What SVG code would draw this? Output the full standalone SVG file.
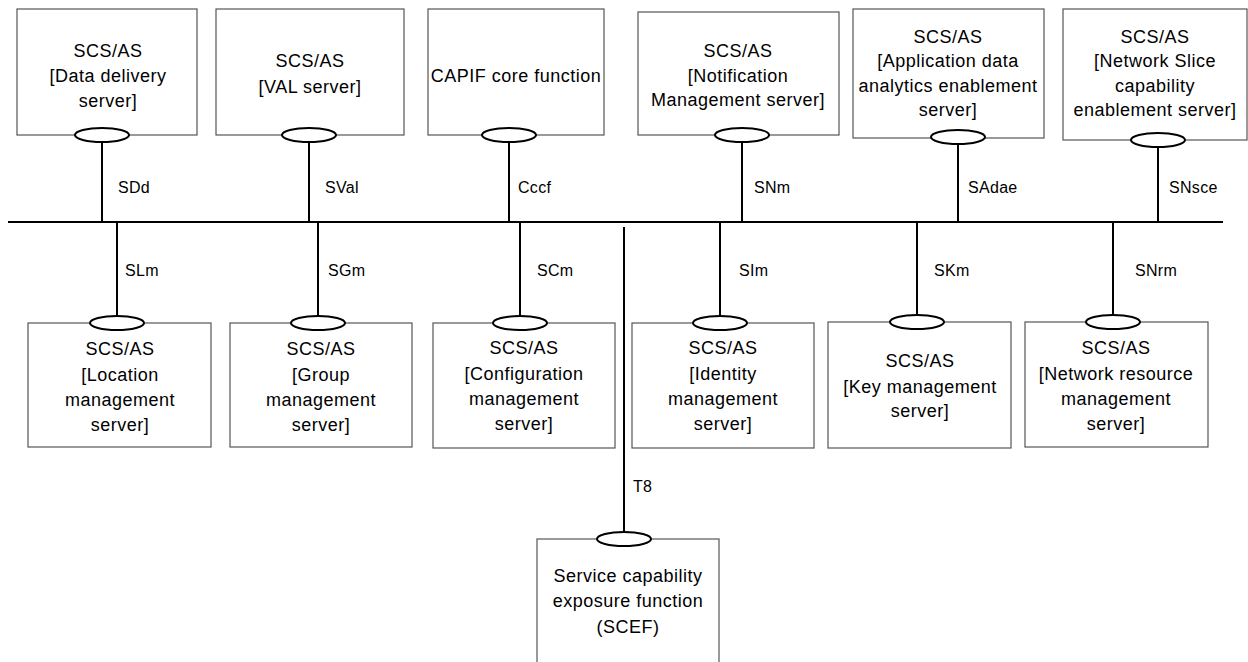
<svg xmlns="http://www.w3.org/2000/svg" width="1248" height="662" viewBox="0 0 1248 662">
<style>
.box{fill:#fff;stroke:#555;stroke-width:1.2}
.el{fill:#fff;stroke:#000;stroke-width:2}
.ln{stroke:#000;stroke-width:2;fill:none}
.t{font-family:"Liberation Sans",Arial,sans-serif;font-size:18px;letter-spacing:0.5px;fill:#000;text-anchor:middle}
.lb{font-family:"Liberation Sans",Arial,sans-serif;font-size:16px;letter-spacing:0.3px;fill:#000}
</style>
<rect width="1248" height="662" fill="#fff"/>
<g id="connectors">
<line class="ln" x1="8" y1="222" x2="1223" y2="222"/>
<line class="ln" x1="102" y1="142" x2="102" y2="222"/>
<line class="ln" x1="309" y1="142" x2="309" y2="222"/>
<line class="ln" x1="509" y1="142" x2="509" y2="222"/>
<line class="ln" x1="742" y1="142" x2="742" y2="222"/>
<line class="ln" x1="958" y1="144" x2="958" y2="222"/>
<line class="ln" x1="1158" y1="147" x2="1158" y2="222"/>
<line class="ln" x1="117" y1="222" x2="117" y2="316"/>
<line class="ln" x1="318" y1="222" x2="318" y2="316"/>
<line class="ln" x1="520" y1="222" x2="520" y2="316"/>
<line class="ln" x1="720" y1="222" x2="720" y2="316"/>
<line class="ln" x1="917" y1="222" x2="917" y2="315"/>
<line class="ln" x1="1113" y1="222" x2="1113" y2="315"/>
<line class="ln" x1="624" y1="227" x2="624" y2="532"/>
<text class="lb" x="118" y="193">SDd</text>
<text class="lb" x="325" y="193">SVal</text>
<text class="lb" x="518" y="193">Cccf</text>
<text class="lb" x="754" y="193">SNm</text>
<text class="lb" x="968" y="193">SAdae</text>
<text class="lb" x="1169" y="193">SNsce</text>
<text class="lb" x="125" y="276">SLm</text>
<text class="lb" x="328" y="276">SGm</text>
<text class="lb" x="537" y="276">SCm</text>
<text class="lb" x="739" y="276">SIm</text>
<text class="lb" x="934" y="276">SKm</text>
<text class="lb" x="1135" y="276">SNrm</text>
<text class="lb" x="633" y="492">T8</text>
</g>
<g id="dds">
<rect class="box" x="17" y="9" width="180" height="126"/>
<text class="t" x="108" y="57">SCS/AS</text>
<text class="t" x="108" y="82">[Data delivery</text>
<text class="t" x="108" y="107">server]</text>
<ellipse class="el" cx="102" cy="135" rx="27" ry="7"/>
</g>
<g id="val">
<rect class="box" x="216" y="9" width="188" height="126"/>
<text class="t" x="310" y="67">SCS/AS</text>
<text class="t" x="310" y="93">[VAL server]</text>
<ellipse class="el" cx="309" cy="135" rx="27" ry="7"/>
</g>
<g id="capif">
<rect class="box" x="428" y="9" width="176" height="126"/>
<text class="t" x="516" y="82">CAPIF core function</text>
<ellipse class="el" cx="509" cy="135" rx="27" ry="7"/>
</g>
<g id="nm">
<rect class="box" x="638" y="12" width="201" height="123"/>
<text class="t" x="738" y="57">SCS/AS</text>
<text class="t" x="738" y="82">[Notification</text>
<text class="t" x="738" y="106">Management server]</text>
<ellipse class="el" cx="742" cy="135" rx="27" ry="7"/>
</g>
<g id="adae">
<rect class="box" x="853" y="9" width="191" height="129"/>
<text class="t" x="948" y="43">SCS/AS</text>
<text class="t" x="948" y="67">[Application data</text>
<text class="t" x="948" y="92">analytics enablement</text>
<text class="t" x="948" y="116">server]</text>
<ellipse class="el" cx="958" cy="137" rx="27" ry="7"/>
</g>
<g id="nsce">
<rect class="box" x="1063" y="9" width="184" height="131"/>
<text class="t" x="1155" y="43">SCS/AS</text>
<text class="t" x="1155" y="67">[Network Slice</text>
<text class="t" x="1155" y="92">capability</text>
<text class="t" x="1155" y="116">enablement server]</text>
<ellipse class="el" cx="1158" cy="140" rx="27" ry="7"/>
</g>
<g id="lm">
<rect class="box" x="28" y="323" width="183" height="124"/>
<text class="t" x="120" y="355">SCS/AS</text>
<text class="t" x="120" y="381">[Location</text>
<text class="t" x="120" y="406">management</text>
<text class="t" x="120" y="431">server]</text>
<ellipse class="el" cx="117" cy="323" rx="27" ry="7"/>
</g>
<g id="gm">
<rect class="box" x="230" y="323" width="182" height="124"/>
<text class="t" x="321" y="355">SCS/AS</text>
<text class="t" x="321" y="381">[Group</text>
<text class="t" x="321" y="406">management</text>
<text class="t" x="321" y="431">server]</text>
<ellipse class="el" cx="318" cy="323" rx="27" ry="7"/>
</g>
<g id="cm">
<rect class="box" x="433" y="323" width="182" height="125"/>
<text class="t" x="524" y="354">SCS/AS</text>
<text class="t" x="524" y="380">[Configuration</text>
<text class="t" x="524" y="405">management</text>
<text class="t" x="524" y="430">server]</text>
<ellipse class="el" cx="520" cy="323" rx="27" ry="7"/>
</g>
<g id="im">
<rect class="box" x="632" y="323" width="182" height="125"/>
<text class="t" x="723" y="354">SCS/AS</text>
<text class="t" x="723" y="380">[Identity</text>
<text class="t" x="723" y="405">management</text>
<text class="t" x="723" y="430">server]</text>
<ellipse class="el" cx="720" cy="323" rx="27" ry="7"/>
</g>
<g id="km">
<rect class="box" x="828" y="322" width="183" height="126"/>
<text class="t" x="920" y="367">SCS/AS</text>
<text class="t" x="920" y="393">[Key management</text>
<text class="t" x="920" y="417">server]</text>
<ellipse class="el" cx="917" cy="322" rx="27" ry="7"/>
</g>
<g id="nrm">
<rect class="box" x="1025" y="322" width="183" height="125"/>
<text class="t" x="1116" y="354">SCS/AS</text>
<text class="t" x="1116" y="380">[Network resource</text>
<text class="t" x="1116" y="405">management</text>
<text class="t" x="1116" y="430">server]</text>
<ellipse class="el" cx="1113" cy="322" rx="27" ry="7"/>
</g>
<g id="scef">
<rect class="box" x="537" y="539" width="182" height="140"/>
<text class="t" x="628" y="582">Service capability</text>
<text class="t" x="628" y="607">exposure function</text>
<text class="t" x="628" y="633">(SCEF)</text>
<ellipse class="el" cx="624" cy="539" rx="27" ry="7"/>
</g>
</svg>
